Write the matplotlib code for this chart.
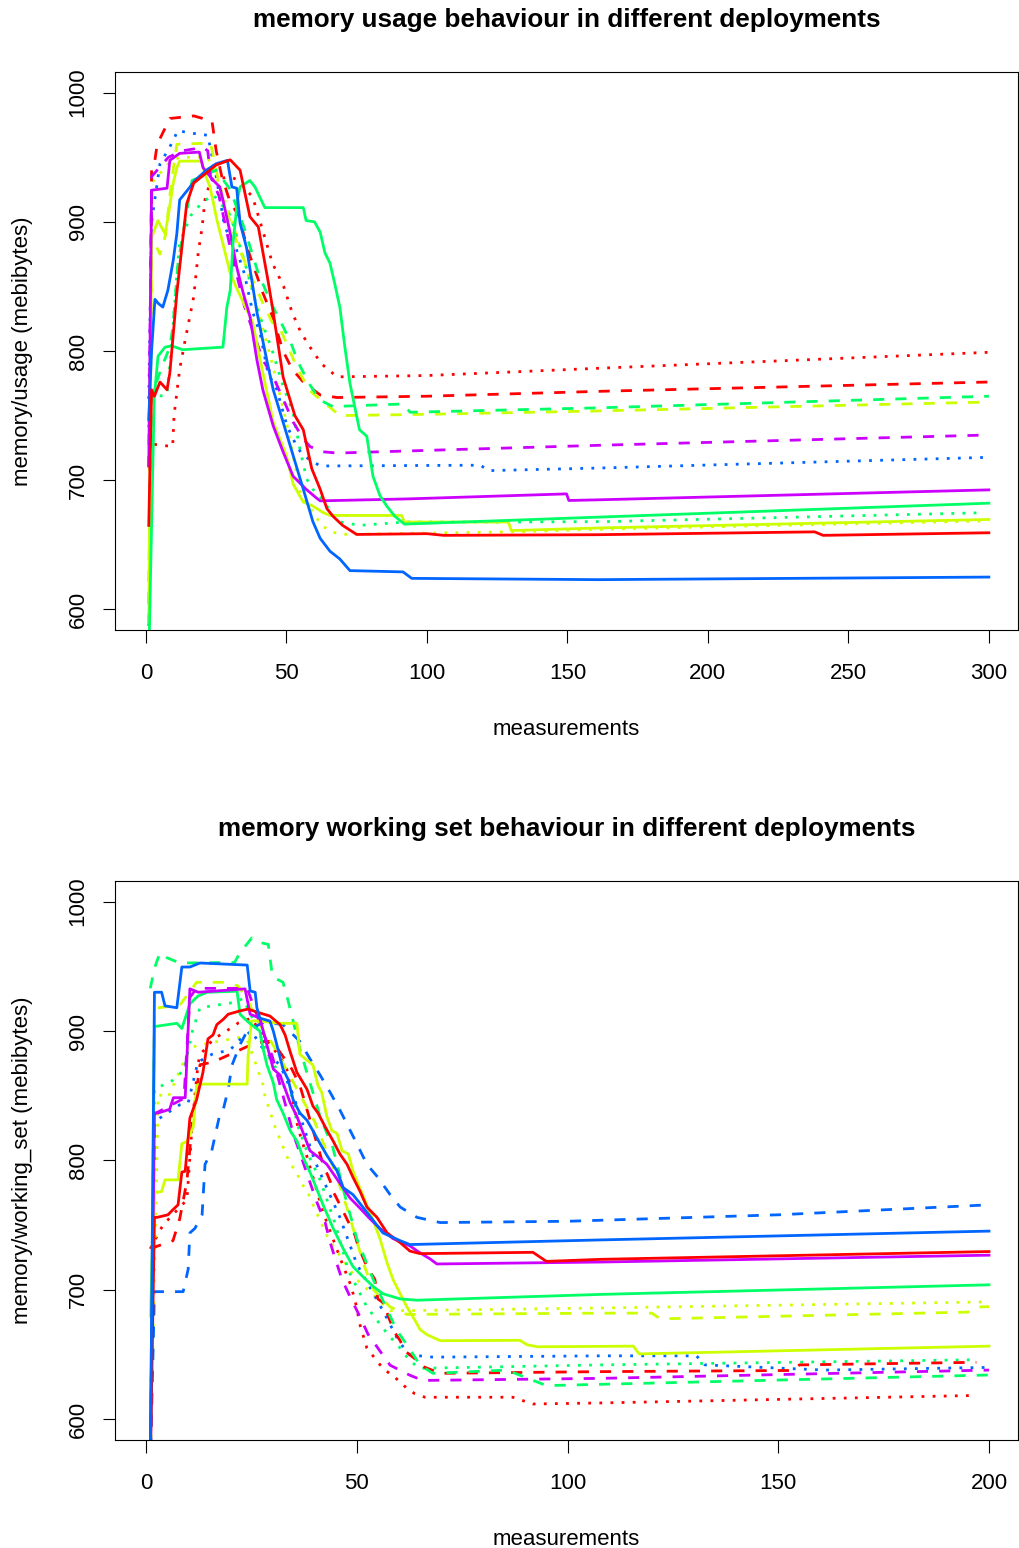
import matplotlib
matplotlib.use("Agg")
import matplotlib.pyplot as plt

plt.rcParams['font.family'] = ['Liberation Sans', 'DejaVu Sans']

# deployment colours (R rainbow(5)) and line types
colors = {'red': '#FF0000', 'yellow': '#CCFF00', 'green': '#00FF66',
          'blue': '#0066FF', 'magenta': '#CC00FF'}
dash_styles = {'solid': None, 'dashed': (4, 4), 'dotted': (1, 3)}

# ---------------- memory/usage (top panel) ----------------
u_red_solid_x = [1, 2, 3, 5, 7.5, 8.5, 10, 11, 14.5, 17, 25, 30, 33.5, 37, 40, 43.4, 45, 48.8, 53, 56, 59, 62,
                 64.4, 66.6, 70, 75, 100, 106, 161, 238, 241, 300]
u_red_solid_y = [665, 770, 765, 776, 770, 783, 820, 845, 914, 930, 944, 948, 940, 904, 896, 855, 834, 780, 750, 739,
                 709, 693, 678, 672, 665, 658, 658.6, 657.3, 657.8, 660, 657.3, 659.3]

u_red_dashed_x = [1, 2, 3, 4, 8.5, 17, 23.5, 25, 27, 30, 33, 36, 41.6, 45, 48.8, 52, 56, 62, 68, 100, 165, 300]
u_red_dashed_y = [570, 940, 945, 960, 980, 982, 978, 955, 935, 915, 905, 880, 845, 827, 800, 786, 776, 766, 764,
                  765, 769, 776]

u_red_dotted_x = [1, 2, 9.5, 10, 12, 14, 17, 18.6, 20, 21, 23, 30, 33, 38, 42.3, 45, 49, 52, 55, 58.4, 62.5, 68,
                  100, 165, 300]
u_red_dotted_y = [743, 728, 726, 750, 786, 809, 842, 876, 896, 917, 932, 935, 932, 919, 888, 868, 850, 830, 815,
                  803, 790, 780, 781, 787, 799]

u_yellow_solid_x = [1, 2, 4.3, 5.7, 6.8, 7.9, 9.7, 11, 12, 19.8, 21, 22.8, 25.3, 27.4, 30, 32, 38, 41.6, 45.3, 50,
                    52.4, 56, 59.4, 63, 65.5, 91, 92, 129, 130, 161, 300]
u_yellow_solid_y = [590, 888, 901, 895, 891, 904, 930, 942, 947, 947, 937, 927, 901, 883, 860, 850, 822, 783, 745,
                    719, 697, 683, 680, 675, 672.7, 672.7, 667.6, 667.6, 661, 663, 669.6]

u_yellow_dashed_x = [1, 2, 5, 7, 9, 11, 23, 25, 27, 29, 33, 38, 42, 45, 48, 54, 56, 59, 64, 69, 100, 161, 300]
u_yellow_dashed_y = [570, 888, 875, 890, 930, 960, 961, 940, 919, 907, 880, 855, 835, 822, 816, 786, 778, 768, 759,
                     750, 751, 753.6, 760.5]

u_yellow_dotted_x = [1, 2, 8, 12, 22, 25, 30, 35, 40, 45, 50, 55, 58, 62.5, 66, 70, 130, 161, 300]
u_yellow_dotted_y = [570, 930, 945, 950, 950, 935, 905, 870, 830, 790, 745, 690, 680, 665, 660, 658, 660, 662, 668.5]

u_green_solid_x = [1, 3, 3.2, 4.3, 6.8, 9.2, 13, 27.4, 28.8, 30, 31, 32.7, 33.5, 37, 38.8, 42.3, 56, 57, 60, 62,
                   63.7, 65.5, 67.3, 69, 70.8, 72.6, 76, 78.6, 80.8, 83.3, 85.7, 88.6, 92, 161, 300]
u_green_solid_y = [560, 770, 770, 796, 803, 804, 801, 803, 834, 847, 884, 919, 927, 932, 927, 911, 911, 901, 900,
                   892, 876, 868, 851, 834, 803, 775, 739, 734, 703, 688, 680, 672, 666, 671.4, 682.2]

u_green_dashed_x = [1, 2, 5.7, 8.5, 9.6, 11.4, 16.4, 25, 30, 35, 40, 45, 48.8, 52, 54, 58, 62, 66.5, 91.5, 94,
                    161, 300]
u_green_dashed_y = [570, 765, 788, 803, 819, 868, 932, 940, 925, 895, 860, 835, 819, 804, 792, 775, 762, 757, 759,
                    752.6, 756, 765]

u_green_dotted_x = [1, 7.5, 9, 11, 12, 16, 20, 24, 30, 35, 40, 45, 48.8, 52.3, 54.8, 57.2, 59.4, 62, 68.4, 76, 92,
                    130, 165, 298]
u_green_dotted_y = [764, 766, 800, 860, 884, 905, 915, 921, 905, 870, 830, 800, 773, 753, 724, 701, 693, 687, 668,
                    665, 667.6, 667.6, 668, 674.8]

u_blue_solid_x = [1, 2, 3.2, 4.3, 6, 7.8, 9.7, 11, 12, 15.7, 17.4, 21.5, 25, 29, 30.6, 32.3, 33.5, 35.8, 39.5, 43,
                  45.3, 48.8, 52.4, 56, 59.4, 62, 65.5, 69, 72.6, 91.5, 94.6, 161, 300]
u_blue_solid_y = [747, 800, 840, 837, 834, 847, 870, 891, 917, 927, 932, 940, 945, 947.6, 927, 926, 899, 880, 830,
                  793, 770, 745, 719, 693, 668, 655, 645, 639, 630, 629, 624, 623, 625]

u_blue_dotted_x = [1, 2, 5, 8.5, 11.4, 15, 18.5, 22, 25, 28, 32, 35, 38, 40.6, 43.4, 46.6, 50.2, 53.7, 56, 62,
                   119, 122, 161, 300]
u_blue_dotted_y = [763, 900, 945, 958, 970.7, 969, 968, 967, 935, 896, 880, 860, 830, 814, 783, 770, 742, 726,
                   719, 711, 711.6, 707.4, 709.4, 717.7]

u_magenta_solid_x = [1, 2, 7.5, 8.5, 12, 19, 20.3, 24, 26.3, 27.4, 30, 32.3, 34.6, 37, 39.5, 41.6, 45.3, 48.8, 52.4,
                     57, 60.8, 62, 93, 149.7, 150.5, 161, 300]
u_magenta_solid_y = [711, 924.5, 926, 947.6, 953, 954, 942, 932, 927, 917, 891, 865, 845, 827, 793, 770, 742, 722,
                     703, 693, 686, 684, 685.5, 689.4, 684.3, 684.8, 692.5]

u_magenta_dashed_x = [1, 2, 4, 8, 13, 20.3, 22, 23, 26, 30, 35, 41.6, 45.3, 50, 52.4, 56, 58.4, 63, 68, 161, 300]
u_magenta_dashed_y = [710, 935, 940, 950, 955, 957.6, 955, 935, 920, 880, 835, 793, 780, 757, 745, 732, 726, 722,
                      721, 727, 735]

# ---------------- memory/working_set (bottom panel) ----------------
w_red_solid_x = [1, 2, 2.6, 5.2, 6.4, 7.6, 8.5, 9.3, 10.4, 12, 13.5, 14.7, 15.9, 16.8, 18.3, 19.5, 22.3, 24.2, 27,
                 29.4, 31.8, 33, 34.2, 35.8, 38.2, 39.6, 40.8, 42.5, 44.4, 46, 47.7, 49.1, 50.8, 52.4, 54.8, 57.2,
                 60.3, 62.6, 65, 91.8, 95, 108, 200]
w_red_solid_y = [560, 756, 756, 758, 762, 765.7, 791, 791.7, 832.7, 847, 868, 894, 897, 905, 909, 913, 915.6, 917,
                 914, 911.6, 905, 897, 884, 868, 855, 842, 836.7, 826, 815, 805, 797, 787, 776, 764, 756, 744,
                 736.5, 730, 728, 729, 722, 723.6, 729.6]

w_red_dashed_x = [1, 2, 6.4, 8, 9.7, 11, 12.8, 15.9, 24, 28, 30, 34.6, 36.5, 42, 43.7, 44.4, 46, 49.6, 50.3, 52.4,
                  54.3, 55, 56.7, 57.4, 59, 60.3, 61.4, 64.5, 65.5, 69.8, 108, 153.5, 155, 197]
w_red_dashed_y = [733, 733, 738, 755, 784, 830, 874, 876, 888, 892, 892, 870.6, 858, 797, 784, 776, 765.7, 742,
                  734, 718, 708, 693, 689, 680, 667, 660.7, 652.8, 645, 641, 635.5, 636.8, 637.7, 642, 644]

w_red_dotted_x = [1, 4, 9.7, 11, 12.3, 12.8, 15.9, 20, 21.9, 25, 28, 31.8, 33.4, 34.2, 36, 37, 38.2, 38.9, 42, 46,
                  48.4, 49.6, 50.8, 52.4, 54.8, 56.2, 60.3, 61.9, 63.8, 66.2, 87, 91.8, 108, 197]
w_red_dotted_y = [731.7, 750, 769.6, 830, 873.7, 881.6, 893.5, 902, 906.3, 910, 895, 880, 870.6, 858, 826, 815,
                  802.8, 795, 760, 725, 705, 692, 672.6, 655, 645, 639.4, 629, 623.7, 619.7, 617, 617, 611.8,
                  612.6, 618.4]

w_yellow_solid_x = [1, 2, 3.7, 4.5, 7.6, 8.5, 9.7, 11.2, 12, 12.8, 24, 24.2, 25, 26, 31.8, 35.8, 36.5, 39.6, 40.8,
                    41.7, 42.9, 44.1, 45.3, 46.5, 48, 49.1, 53.1, 54.3, 55.5, 57.2, 58.6, 60.3, 61.9, 63.8, 65,
                    66.6, 69.8, 88.7, 90.4, 92.8, 115.6, 117, 200]
w_yellow_solid_y = [679.7, 775, 776, 785, 785, 813, 814.6, 826, 858, 859, 859, 880, 907.7, 908, 906, 906, 882,
                    873.7, 858, 852.5, 834, 823, 821, 807.5, 805, 791.7, 760, 750, 739.6, 720.7, 708, 697, 686.8,
                    676.5, 669.4, 665.5, 660.7, 661, 657.6, 656, 656.5, 650.5, 656.5]

w_yellow_dashed_x = [1, 2, 2.9, 8, 12, 18.3, 21.8, 24, 26, 30, 35, 40, 45, 48, 51.6, 54, 57.9, 61.9, 108, 120, 122,
                     195, 198, 200]
w_yellow_dashed_y = [560, 918, 918, 920, 937.7, 937.7, 935, 925, 910, 890, 860, 830, 790, 760, 720, 700, 686.8, 681,
                     682, 682, 677.6, 682.8, 686.8, 687]

w_yellow_dotted_x = [1, 2.9, 5.2, 8, 10.4, 12, 17.2, 22, 24, 26, 27.8, 28.2, 30.6, 32.5, 34.2, 35.8, 36.5, 38.2,
                     38.9, 42.9, 44.4, 50, 57.9, 62.6, 108, 200]
w_yellow_dotted_y = [560, 851, 848.5, 869.5, 885.6, 889, 892, 895, 893, 875, 858, 850, 826, 810.6, 797, 791.7, 783,
                     777.5, 771, 742, 734, 708, 684, 684, 686, 690.7]

w_green_solid_x = [1, 2, 2.5, 5.2, 7.3, 8.5, 10.4, 12.3, 14.5, 21.6, 22.3, 24, 25, 27, 27.8, 28.7, 30.2, 31, 32.5,
                   34.2, 35.8, 37.2, 38.9, 42, 44.4, 46.8, 49.1, 51.5, 53.9, 56.2, 60.3, 64.3, 108, 200]
w_green_solid_y = [560, 903.7, 903.7, 905, 906, 902, 921, 927, 930, 930.8, 913, 907.7, 905, 900, 886, 873.7, 860,
                   847, 836.7, 823, 815, 802.8, 791, 765.7, 747.5, 731.7, 718, 710, 702.6, 697, 693, 692, 696.5,
                   703.9]

w_green_dashed_x = [1, 2.1, 3.3, 5, 8, 21, 22.3, 25.1, 26.3, 29, 29.8, 30.2, 32.5, 33.7, 34.9, 36.5, 38.9, 41.3,
                    42.9, 44.1, 47, 50, 53.9, 59.5, 61.9, 65, 68.1, 85.6, 95, 108, 200]
w_green_dashed_y = [933, 949.5, 960.5, 956.6, 952.6, 953, 960.5, 972, 969, 967, 947, 941.6, 937.7, 923.5, 907.7,
                    886, 860, 834, 821, 813, 775, 739.6, 708, 668.6, 657.6, 641.8, 635.5, 638, 626, 627, 634.2]

w_green_dotted_x = [1, 2, 6.4, 9, 11, 12.8, 15.7, 20.6, 23, 26, 29.4, 31.8, 32.5, 34.6, 35.8, 38.4, 41.3, 45, 48,
                    52.4, 54.8, 57.4, 60.3, 62.6, 65, 108, 197]
w_green_dotted_y = [560, 855, 862, 870, 900, 918, 919.5, 922, 925, 905, 878.5, 866.7, 858, 850, 828.8, 805, 785,
                    750, 715, 686.8, 676.5, 665.5, 655, 645, 639.4, 642, 646]

w_blue_solid_x = [1, 2, 3.7, 4.5, 7.3, 8.5, 10.4, 12.8, 24, 24.7, 25.9, 26.3, 27, 29.4, 30.2, 31.3, 32.5, 33.7,
                  34.9, 36.5, 38.2, 39.6, 41.3, 42.9, 45.3, 46.8, 49.1, 52.4, 56.2, 60.3, 62.6, 108, 200]
w_blue_solid_y = [560, 930, 930, 919.5, 918, 949.5, 949.5, 952.6, 951, 931, 930, 918, 910, 907.7, 900, 886, 870.6,
                  862.7, 847, 836.7, 831, 823, 813, 804, 792, 779, 773.6, 760, 744, 738, 735, 738.6, 745.4]

w_blue_dashed_x = [1, 2, 8.8, 10, 10.4, 11.6, 13.3, 14, 15.6, 17.6, 18.3, 19.5, 20.4, 22.3, 24, 25, 28, 32.5, 36.5,
                   38.9, 41.3, 43.7, 46, 48, 50, 52.4, 55, 57.9, 60.3, 64.3, 69.8, 100, 150, 200]
w_blue_dashed_y = [560, 698.6, 698.6, 716, 744, 747.5, 758, 797, 807.5, 837, 839, 855, 873.7, 889.5, 900, 902, 907,
                   905, 892, 878.5, 866, 852.5, 839, 826, 813, 797, 787, 773.6, 764, 756, 752, 753, 758, 765.7]

w_blue_dotted_x = [1, 2, 8, 10, 12.3, 15.6, 20, 22.3, 25, 28, 31.8, 35, 40, 46, 50, 56.2, 60, 62.6, 68.1, 108,
                   130.6, 132.6, 161, 199]
w_blue_dotted_y = [560, 830, 843, 844.6, 876, 882, 885.6, 893.5, 900, 885, 873.7, 850, 800, 756, 720, 684, 660,
                   649.7, 648, 649, 649, 642, 638, 640]

w_magenta_solid_x = [1, 2, 2.9, 5.6, 6.5, 9.3, 10.4, 12.4, 23.5, 24.7, 27, 30.2, 31.8, 34.2, 35.8, 38.9, 40.8,
                     42.9, 48.4, 50.8, 53.1, 55.5, 58.6, 62.6, 65, 67.4, 69, 108, 200]
w_magenta_solid_y = [560, 836.7, 836.7, 839.5, 848.5, 848.5, 932.6, 930, 932.6, 913, 910, 870.6, 866, 844.6, 834,
                     807.5, 802.8, 797, 771, 763, 755, 747.5, 739.6, 734, 728.6, 723.9, 720, 721.5, 726.8]

w_magenta_dashed_x = [1, 2, 9, 10.4, 12, 24, 26, 30, 35, 40.5, 42.5, 43.7, 44.9, 46.5, 48.4, 50.8, 52.7, 57.9, 62.6,
                      65.7, 108, 200]
w_magenta_dashed_y = [560, 836, 848, 926, 933, 933, 915, 880, 820, 768, 752, 736.5, 724, 708, 694.7, 679, 665.5,
                      641.8, 634, 630, 631.6, 638]

usage_series = [
    (u_red_dotted_x, u_red_dotted_y, 'red', 'dotted'),
    (u_yellow_dotted_x, u_yellow_dotted_y, 'yellow', 'dotted'),
    (u_green_dotted_x, u_green_dotted_y, 'green', 'dotted'),
    (u_blue_dotted_x, u_blue_dotted_y, 'blue', 'dotted'),
    (u_red_dashed_x, u_red_dashed_y, 'red', 'dashed'),
    (u_yellow_dashed_x, u_yellow_dashed_y, 'yellow', 'dashed'),
    (u_green_dashed_x, u_green_dashed_y, 'green', 'dashed'),
    (u_magenta_dashed_x, u_magenta_dashed_y, 'magenta', 'dashed'),
    (u_yellow_solid_x, u_yellow_solid_y, 'yellow', 'solid'),
    (u_magenta_solid_x, u_magenta_solid_y, 'magenta', 'solid'),
    (u_green_solid_x, u_green_solid_y, 'green', 'solid'),
    (u_blue_solid_x, u_blue_solid_y, 'blue', 'solid'),
    (u_red_solid_x, u_red_solid_y, 'red', 'solid'),
]

working_set_series = [
    (w_red_dotted_x, w_red_dotted_y, 'red', 'dotted'),
    (w_yellow_dotted_x, w_yellow_dotted_y, 'yellow', 'dotted'),
    (w_green_dotted_x, w_green_dotted_y, 'green', 'dotted'),
    (w_blue_dotted_x, w_blue_dotted_y, 'blue', 'dotted'),
    (w_red_dashed_x, w_red_dashed_y, 'red', 'dashed'),
    (w_yellow_dashed_x, w_yellow_dashed_y, 'yellow', 'dashed'),
    (w_green_dashed_x, w_green_dashed_y, 'green', 'dashed'),
    (w_blue_dashed_x, w_blue_dashed_y, 'blue', 'dashed'),
    (w_magenta_dashed_x, w_magenta_dashed_y, 'magenta', 'dashed'),
    (w_yellow_solid_x, w_yellow_solid_y, 'yellow', 'solid'),
    (w_green_solid_x, w_green_solid_y, 'green', 'solid'),
    (w_magenta_solid_x, w_magenta_solid_y, 'magenta', 'solid'),
    (w_red_solid_x, w_red_solid_y, 'red', 'solid'),
    (w_blue_solid_x, w_blue_solid_y, 'blue', 'solid'),
]

y_ticks = [600, 700, 800, 900, 1000]
usage_x_ticks = [0, 50, 100, 150, 200, 250, 300]
working_set_x_ticks = [0, 50, 100, 150, 200]


def draw_panel(ax, series, x_limits, x_ticks, title, ylabel):
    for xs, ys, col, style in series:
        line, = ax.plot(xs, ys, color=colors[col], lw=2)
        if dash_styles[style] is not None:
            line.set_dashes(dash_styles[style])

    ax.set_xlim(x_limits)
    ax.set_ylim(600 - 16, 1000 + 16)

    ax.set_xticks(x_ticks)
    ax.set_yticks(y_ticks)
    ax.tick_params(axis='both', direction='out', length=9, width=0.8, labelsize=16, pad=15)
    ax.tick_params(axis='y', labelrotation=90, pad=10)
    for lab in ax.get_yticklabels():
        lab.set_va('center')

    for sp in ax.spines.values():
        sp.set_linewidth(0.8)

    ax.set_xlabel('measurements', fontsize=16, va='center')
    ax.xaxis.set_label_coords(0.5, -0.178)
    ax.set_ylabel(ylabel, fontsize=16, va='center')
    ax.yaxis.set_label_coords(-0.103, 0.5)
    ax.text(0.5, 1.093, title, transform=ax.transAxes, ha='center', va='center',
            fontsize=18.8, fontweight='bold')


fig = plt.figure(figsize=(10.19, 15.48), dpi=100)
ax_top = fig.add_axes([0.1129, 0.593, 0.8862, 0.3605])
ax_bottom = fig.add_axes([0.1129, 0.0698, 0.8862, 0.3611])

draw_panel(ax_top, usage_series, (-11.0, 310.4), usage_x_ticks,
           'memory usage behaviour in different deployments', 'memory/usage (mebibytes)')
draw_panel(ax_bottom, working_set_series, (-7.35, 206.9), working_set_x_ticks,
           'memory working set behaviour in different deployments', 'memory/working_set (mebibytes)')

fig.savefig('out.png', dpi=100)
